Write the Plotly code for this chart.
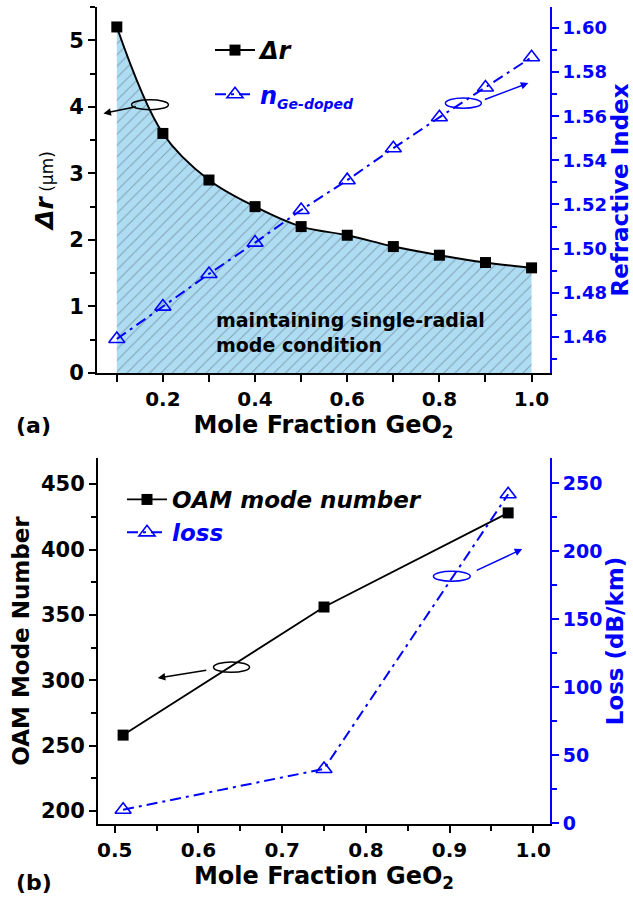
import plotly.graph_objects as go

# ---- data (a) ----
mole_a = [0.1, 0.2, 0.3, 0.4, 0.5, 0.6, 0.7, 0.8, 0.9, 1.0]
delta_r = [5.2, 3.6, 2.9, 2.5, 2.2, 2.07, 1.9, 1.77, 1.66, 1.58]
n_ge = [1.459, 1.4737, 1.4885, 1.5027, 1.5175, 1.531, 1.5455, 1.5595, 1.573, 1.5867]

# ---- data (b) ----
mole_b = [0.51, 0.75, 0.97]
oam_modes = [258, 356, 428]
loss_db = [10, 40, 242]

FONT = "DejaVu Sans"
BLUE = "#0000ff"
BLACK = "#000000"

fig = go.Figure()

# filled region (a)
fig.add_trace(go.Scatter(
    x=mole_a, y=delta_r, xaxis="x", yaxis="y", mode="lines",
    line=dict(color=BLACK, width=0, shape="spline"),
    fill="tozeroy", fillcolor="#aedcf2",
    fillpattern=dict(shape="/", fgcolor="#55626e", bgcolor="#aedcf2", size=8, solidity=0.12),
    showlegend=False, hoverinfo="skip"))

fig.add_trace(go.Scatter(
    x=mole_a, y=delta_r, xaxis="x", yaxis="y", mode="lines+markers",
    line=dict(color=BLACK, width=2, shape="spline"),
    marker=dict(symbol="square", size=11, color=BLACK),
    name="<b><i>Δr</i></b>", legend="legend", legendgroup="a1"))

fig.add_trace(go.Scatter(
    x=mole_a, y=n_ge, xaxis="x", yaxis="y2", mode="lines+markers",
    line=dict(color=BLUE, width=2, dash="11px,5px,3px,5px"),
    marker=dict(symbol="triangle-up-open", size=14, color=BLUE, line=dict(width=1.6, color=BLUE)),
    name="<span style='color:#0000ff'><b><i>n<sub><span style='font-size:14px'>Ge-doped</span></sub></i></b></span>",
    legend="legend", legendgroup="a2"))

fig.add_trace(go.Scatter(
    x=mole_b, y=oam_modes, xaxis="x2", yaxis="y3", mode="lines+markers",
    line=dict(color=BLACK, width=1.8),
    marker=dict(symbol="square", size=11, color=BLACK),
    name="<b><i>OAM mode number</i></b>", legend="legend2"))

fig.add_trace(go.Scatter(
    x=mole_b, y=loss_db, xaxis="x2", yaxis="y4", mode="lines+markers",
    line=dict(color=BLUE, width=2, dash="11px,5px,3px,5px"),
    marker=dict(symbol="triangle-up-open", size=14, color=BLUE, line=dict(width=1.6, color=BLUE)),
    name="<span style='color:#0000ff'><b><i>loss</i></b></span>", legend="legend2"))

W, H = 633, 901
def dx(a, b):
    return [a / W, b / W]
def dy(top, bot):
    return [1 - bot / H, 1 - top / H]

tickfont_k = lambda s: dict(family=FONT, size=s, color=BLACK, weight="bold")
tickfont_b = lambda s: dict(family=FONT, size=s, color=BLUE, weight="bold")

common = dict(showgrid=False, zeroline=False, showline=True, linewidth=2, ticks="outside",
              ticklen=7, tickwidth=1.8, automargin=False)

xtitle = "<b>Mole Fraction GeO<sub>2</sub></b>"

fig.update_layout(
    width=W, height=H, margin=dict(l=0, r=0, t=0, b=0),
    paper_bgcolor="white", plot_bgcolor="white",
    font=dict(family=FONT, color=BLACK),
    xaxis=dict(domain=dx(97, 550), anchor="y", range=[0.057, 1.04], tick0=0, dtick=0.2,
               tickformat=".1f", linecolor=BLACK, tickcolor=BLACK, tickfont=tickfont_k(20),
               minor=dict(dtick=0.1, tick0=0, ticks="outside", ticklen=7, tickcolor=BLACK, tickwidth=1.8),
               title=dict(text=xtitle, font=dict(family=FONT, size=24), standoff=3), **common),
    xaxis3=dict(overlaying="x", side="top", anchor="y", range=[0.057, 1.04], tick0=0, dtick=0.1,
                showticklabels=False, showgrid=False, zeroline=False, showline=True, linewidth=2,
                linecolor=BLACK, ticks="inside", ticklen=7, tickwidth=1.8, tickcolor=BLACK),
    yaxis=dict(domain=dy(7, 373), anchor="x", range=[0, 5.5], dtick=1, tick0=0,
               linecolor=BLACK, tickcolor=BLACK, tickfont=tickfont_k(21),
               minor=dict(dtick=0.5, ticks="outside", ticklen=5, tickcolor=BLACK, tickwidth=1.8),
               title=dict(text="<b><i>Δr</i></b><span style='font-size:17px'> (μm)</span>",
                          font=dict(family=FONT, size=25), standoff=8), **common),
    yaxis2=dict(overlaying="y", side="right", anchor="x", range=[1.4436, 1.6095], tick0=1.46, dtick=0.02,
                tickformat=".2f", linecolor=BLUE, tickcolor=BLUE, tickfont=tickfont_b(18),
                minor=dict(dtick=0.01, tick0=1.46, ticks="outside", ticklen=5, tickcolor=BLUE, tickwidth=1.8),
                title=dict(text="<b>Refractive Index</b>", font=dict(family=FONT, size=23, color=BLUE), standoff=4),
                **common),
    xaxis2=dict(domain=dx(98, 550), anchor="y3", range=[0.48, 1.02], tick0=0, dtick=0.1,
                tickformat=".1f", linecolor=BLACK, tickcolor=BLACK, tickfont=tickfont_k(20),
                minor=dict(dtick=0.05, tick0=0, ticks="outside", ticklen=5, tickcolor=BLACK, tickwidth=1.8),
                title=dict(text=xtitle, font=dict(family=FONT, size=24), standoff=3), **common),
    xaxis4=dict(overlaying="x2", side="top", anchor="y3", range=[0.48, 1.02], tick0=0, dtick=0.05,
                showticklabels=False, showgrid=False, zeroline=False, showline=True, linewidth=2,
                linecolor=BLACK, ticks="inside", ticklen=7, tickwidth=1.8, tickcolor=BLACK),
    yaxis3=dict(domain=dy(458, 824), anchor="x2", range=[190, 470], tick0=0, dtick=50,
                linecolor=BLACK, tickcolor=BLACK, tickfont=tickfont_k(21),
                minor=dict(dtick=25, ticks="outside", ticklen=5, tickcolor=BLACK, tickwidth=1.8),
                title=dict(text="<b>OAM Mode Number</b>", font=dict(family=FONT, size=23), standoff=5),
                **common),
    yaxis4=dict(overlaying="y3", side="right", anchor="x2", range=[-0.5, 268.7], tick0=0, dtick=50,
                linecolor=BLUE, tickcolor=BLUE, tickfont=tickfont_b(19),
                minor=dict(dtick=25, ticks="outside", ticklen=5, tickcolor=BLUE, tickwidth=1.8),
                title=dict(text="<b>Loss (dB/km)</b>", font=dict(family=FONT, size=23, color=BLUE), standoff=4),
                **common),
    legend=dict(x=210 / W, y=1 - 28 / H, xanchor="left", yanchor="top", bgcolor="rgba(0,0,0,0)",
                font=dict(family=FONT, size=24, color=BLACK), tracegroupgap=10, itemwidth=40),
    legend2=dict(x=122 / W, y=1 - 478 / H, xanchor="left", yanchor="top", bgcolor="rgba(0,0,0,0)",
                 font=dict(family=FONT, size=23, color=BLACK), tracegroupgap=0, itemwidth=40),
)

# ellipses (annotation marks)
shapes = [
    dict(type="circle", xref="x", yref="y", x0=0.132, x1=0.212, y0=3.955, y1=4.105, line=dict(color=BLACK, width=1.5)),
    dict(type="circle", xref="x", yref="y2", x0=0.813, x1=0.891, y0=1.5636, y1=1.5682, line=dict(color=BLUE, width=1.5)),
    dict(type="circle", xref="x2", yref="y3", x0=0.618, x1=0.661, y0=306, y1=314, line=dict(color=BLACK, width=1.5)),
    dict(type="circle", xref="x2", yref="y4", x0=0.8807, x1=0.9247, y0=178, y1=185.4, line=dict(color=BLUE, width=1.5)),
]
fig.update_layout(shapes=shapes)

arrow = dict(showarrow=True, arrowhead=2, arrowsize=1, arrowwidth=1.5, text="")
annos = [
    dict(x=0.071, y=3.9, xref="x", yref="y", ax=34, ay=-7, arrowcolor=BLACK, **arrow),
    dict(x=0.993, y=1.575, xref="x", yref="y2", ax=-45, ay=17, arrowcolor=BLUE, **arrow),
    dict(x=0.5514, y=301.7, xref="x2", yref="y3", ax=50, ay=-8, arrowcolor=BLACK, **arrow),
    dict(x=0.9868, y=201.7, xref="x2", yref="y4", ax=-47, ay=22, arrowcolor=BLUE, **arrow),
    dict(x=0.31, y=0.61, xref="x", yref="y", xanchor="left", yanchor="middle", showarrow=False, align="left",
         text="<b>maintaining single-radial<br>mode condition</b>", font=dict(family=FONT, size=19, color=BLACK)),
    dict(x=14 / W, y=1 - 425 / H, xref="paper", yref="paper", xanchor="left", yanchor="middle", showarrow=False,
         text="<b>(a)</b>", font=dict(family=FONT, size=22, color=BLACK)),
    dict(x=14 / W, y=1 - 882 / H, xref="paper", yref="paper", xanchor="left", yanchor="middle", showarrow=False,
         text="<b>(b)</b>", font=dict(family=FONT, size=22, color=BLACK)),
]
fig.update_layout(annotations=annos)

fig.write_html("out.html")
